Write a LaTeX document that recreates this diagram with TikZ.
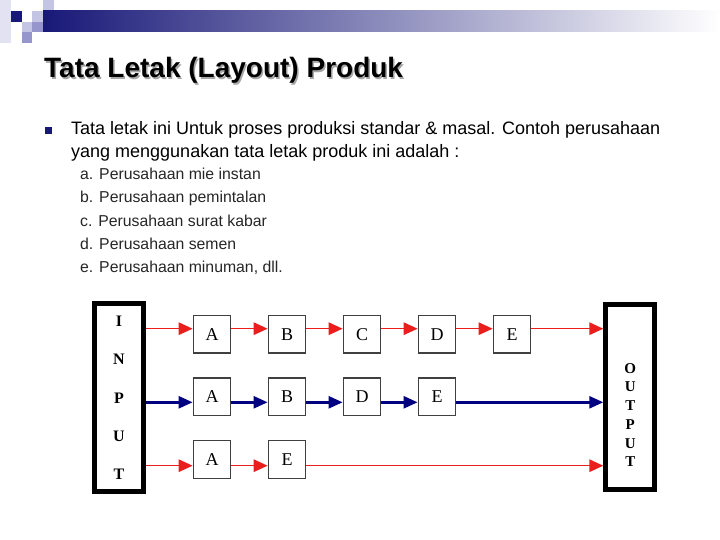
\documentclass[tikz,border=0pt]{standalone}
\usepackage{fontspec}
\setmainfont{Liberation Sans}
\newfontfamily\diagfont{Liberation Serif}
\usetikzlibrary{arrows.meta}

\definecolor{navy}{RGB}{24,24,120}
\definecolor{lavA}{RGB}{226,226,242}
\definecolor{lavB}{RGB}{196,196,228}
\definecolor{lavC}{RGB}{150,150,205}
\definecolor{flowred}{RGB}{235,30,30}
\definecolor{flowblue}{RGB}{0,0,128}

\begin{document}
\begin{tikzpicture}[x=1pt, y=-1pt,
  stn/.style={draw=black!75, line width=1.3pt, minimum size=37.5pt, inner sep=0pt,
              font=\diagfont\fontsize{18}{18}\selectfont},
  iobox/.style={draw, line width=5pt, minimum width=49pt, inner sep=0pt},
  redflow/.style={-{Triangle[length=14pt, width=12.5pt]}, line width=1.5pt, flowred},
  blueflow/.style={-{Triangle[length=14pt, width=12pt]}, line width=2.5pt, flowblue},
  item/.style={anchor=base west, inner sep=0pt, font=\fontsize{15.8}{15.8}\selectfont, black!85},
]
  \useasboundingbox (0,0) rectangle (720,540);

  % header ornament
  \fill[lavA] (0,0) rectangle (11,43);
  \fill[lavB] (43,0) rectangle (54,11);
  \fill[navy] (11,11) rectangle (22,22);
  \fill[lavB] (32,11) rectangle (43,22);
  \fill[lavB] (22,22) rectangle (32,32);
  \fill[lavC] (32,22) rectangle (43,32);
  \fill[lavC] (22,32) rectangle (32,43);
  \shade[left color=navy, right color=white] (43,11) rectangle (720,32);

  % title
  \node[anchor=base west, inner sep=0pt, font=\bfseries\fontsize{28}{28}\selectfont, black!35]
    (title-shadow) at (45.5,79.5) {Tata Letak (Layout) Produk};
  \node[anchor=base west, inner sep=0pt, font=\bfseries\fontsize{28}{28}\selectfont]
    (title) at (44,78) {Tata Letak (Layout) Produk};

  % text
  \fill[navy] (45,127) rectangle (52,134);
  \node[anchor=base west, inner sep=0pt, font=\fontsize{18}{23}\selectfont, align=left]
    (intro) at (71,158) {Tata letak ini Untuk proses produksi standar \& masal. Contoh perusahaan\\
                         yang menggunakan tata letak produk ini adalah :};
  \node[item] (ia) at (80,180) {a. Perusahaan mie instan};
  \node[item] (ib) at (80,203) {b. Perusahaan pemintalan};
  \node[item] (ic) at (80,226) {c. Perusahaan surat kabar};
  \node[item] (id) at (80,249) {d. Perusahaan semen};
  \node[item] (ie) at (80,272) {e. Perusahaan minuman, dll.};

  % input / output
  \node[iobox, minimum height=188.3pt] (inp) at (118.7,397.3) {};
  \node[font=\diagfont\bfseries\fontsize{16}{38.3}\selectfont, align=center] (inptxt) at (119,398) {I\\N\\P\\U\\T};
  \node[iobox, minimum height=185.6pt] (out) at (630.3,397) {};
  \node[font=\diagfont\bfseries\fontsize{15}{18.7}\selectfont, align=center] (outtxt) at (630.3,415) {O\\U\\T\\P\\U\\T};

  % stations
  \node[stn] (a1) at (212,334.2) {A};
  \node[stn] (b1) at (287,334.2) {B};
  \node[stn] (c1) at (362,334.2) {C};
  \node[stn] (d1) at (437,334.2) {D};
  \node[stn] (e1) at (512,334.2) {E};
  \node[stn] (a2) at (212,396.7) {A};
  \node[stn] (b2) at (287,396.7) {B};
  \node[stn] (d2) at (362,396.7) {D};
  \node[stn] (e2) at (437,396.7) {E};
  \node[stn] (a3) at (212,459.5) {A};
  \node[stn] (e3) at (287,459.5) {E};

  \coordinate (r1) at (0,328.7);
  \coordinate (r2) at (0,402.3);
  \coordinate (r3) at (0,465.7);

  % flows
  \draw[redflow] (inp.east |- r1) -- (a1.west |- r1);
  \draw[redflow] (a1.east |- r1) -- (b1.west |- r1);
  \draw[redflow] (b1.east |- r1) -- (c1.west |- r1);
  \draw[redflow] (c1.east |- r1) -- (d1.west |- r1);
  \draw[redflow] (d1.east |- r1) -- (e1.west |- r1);
  \draw[redflow] (e1.east |- r1) -- (out.west |- r1);

  \draw[blueflow] (inp.east |- r2) -- (a2.west |- r2);
  \draw[blueflow] (a2.east |- r2) -- (b2.west |- r2);
  \draw[blueflow] (b2.east |- r2) -- (d2.west |- r2);
  \draw[blueflow] (d2.east |- r2) -- (e2.west |- r2);
  \draw[blueflow] (e2.east |- r2) -- (out.west |- r2);

  \draw[redflow] (inp.east |- r3) -- (a3.west |- r3);
  \draw[redflow] (a3.east |- r3) -- (e3.west |- r3);
  \draw[redflow] (e3.east |- r3) -- (out.west |- r3);
\end{tikzpicture}
\end{document}
